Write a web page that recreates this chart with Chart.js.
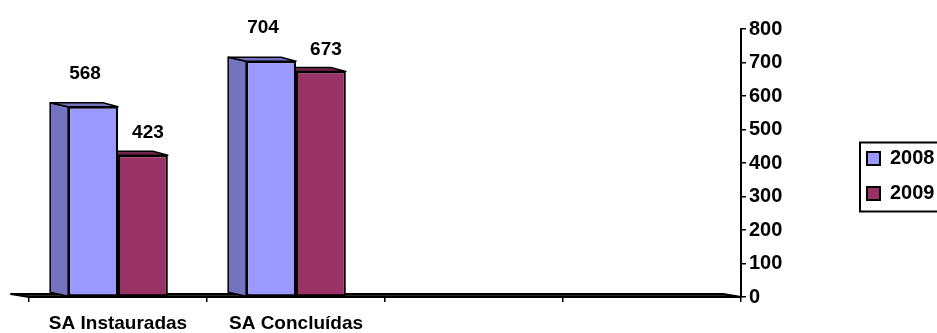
<!DOCTYPE html>
<html>
<head>
<meta charset="utf-8">
<script src="https://cdn.jsdelivr.net/npm/chart.js@4"></script>
<style>
  html, body { margin: 0; padding: 0; background: #fff; }
  #wrap { width: 937px; height: 333px; }
</style>
</head>
<body>
<div id="wrap"><canvas id="chart" width="937" height="333"></canvas></div>
<script>
// data
const categories = ['SA Instauradas', 'SA Concluídas', '', ''];
const years = ['2008', '2009'];
const values2008 = [568, 704, null, null];
const values2009 = [423, 673, null, null];
const yTicks = [0, 100, 200, 300, 400, 500, 600, 700, 800];

const frontColors = ['#9999FF', '#993366'];
const sideColors = ['#7373BF', '#73264D'];
const FONT = "'Liberation Sans', Arial, sans-serif";

// depth of the fake 3d look
const depthL = -18, depthR = -15, depthY = -4;

const threeD = {
    id: 'threeD',
    beforeDatasetsDraw(chart) {
        const ctx = chart.ctx;
        const area = chart.chartArea;
        const y0 = chart.scales.y.getPixelForValue(0);
        ctx.save();
        ctx.lineWidth = 1.5;
        ctx.strokeStyle = '#000';
        ctx.lineJoin = 'round';

        // floor
        ctx.beginPath();
        ctx.moveTo(area.left, y0);
        ctx.lineTo(area.right, y0);
        ctx.lineTo(area.right + depthL, y0 + depthY + 1);
        ctx.lineTo(area.left + depthL, y0 + depthY + 1);
        ctx.closePath();
        ctx.fillStyle = '#2a2a2a';
        ctx.fill();
        ctx.lineWidth = 2;
        ctx.stroke();
        ctx.lineWidth = 1.5;

        chart.data.datasets.forEach((ds, i) => {
            const meta = chart.getDatasetMeta(i);
            meta.data.forEach((bar, j) => {
                if (ds.data[j] == null) return;
                const left = bar.x - bar.width / 2;
                const right = bar.x + bar.width / 2;
                const top = bar.y;
                const base = bar.base;
                // side
                ctx.beginPath();
                ctx.moveTo(left, top);
                ctx.lineTo(left + depthL, top + depthY);
                ctx.lineTo(left + depthL, base + depthY);
                ctx.lineTo(left, base);
                ctx.closePath();
                ctx.fillStyle = sideColors[i];
                ctx.fill();
                ctx.stroke();
                // top
                ctx.beginPath();
                ctx.moveTo(left, top);
                ctx.lineTo(right, top);
                ctx.lineTo(right + depthR, top + depthY);
                ctx.lineTo(left + depthL, top + depthY);
                ctx.closePath();
                ctx.fillStyle = sideColors[i];
                ctx.fill();
                ctx.stroke();
            });
        });
        ctx.restore();
    }
};

const valueLabels = {
    id: 'valueLabels',
    afterDatasetsDraw(chart) {
        const ctx = chart.ctx;
        const dx = [-8, 5];
        const dy = [-28, -17];
        ctx.save();
        ctx.font = 'bold 19px ' + FONT;
        ctx.fillStyle = '#000';
        ctx.textAlign = 'center';
        ctx.textBaseline = 'alphabetic';
        chart.data.datasets.forEach((ds, i) => {
            chart.getDatasetMeta(i).data.forEach((bar, j) => {
                if (ds.data[j] == null) return;
                ctx.fillText(String(ds.data[j]), bar.x + dx[i], bar.y + dy[i]);
            });
        });
        ctx.restore();
    }
};

// nudge the legend up a little, then frame it
const legendBox = {
    id: 'legendBox',
    afterLayout(chart) {
        chart.legend.top -= 5;
        chart.legend.bottom -= 5;
    },
    afterDraw(chart) {
        const hb = chart.legend.legendHitBoxes;
        if (!hb || !hb.length) return;
        const ctx = chart.ctx;
        const last = hb[hb.length - 1];
        const x = hb[0].left - 7;
        const y = hb[0].top - 6;
        const h = last.top + last.height + 8 - y;
        ctx.save();
        ctx.strokeStyle = '#000';
        ctx.lineWidth = 2;
        ctx.strokeRect(x, y, chart.width + 20 - x, h);
        ctx.restore();
    }
};

const ctx = document.getElementById('chart').getContext('2d');
new Chart(ctx, {
    type: 'bar',
    data: {
        labels: categories,
        datasets: [{
            label: years[0],
            data: values2008,
            backgroundColor: frontColors[0],
            borderColor: '#000',
            borderWidth: 2,
            borderSkipped: false
        }, {
            label: years[1],
            data: values2009,
            backgroundColor: frontColors[1],
            borderColor: '#000',
            borderWidth: 2,
            borderSkipped: false
        }]
    },
    options: {
        responsive: false,
        animation: false,
        categoryPercentage: 0.56,
        barPercentage: 1.0,
        layout: { padding: { left: 29, top: 29, right: 0, bottom: 0 } },
        plugins: {
            tooltip: { enabled: false },
            legend: {
                position: 'right',
                maxWidth: 85,
                labels: {
                    boxWidth: 13,
                    boxHeight: 13,
                    padding: 15,
                    color: '#000',
                    font: { family: FONT, size: 20, weight: 'bold' }
                }
            }
        },
        scales: {
            x: {
                afterFit(scale) {
                    scale.height = 36;
                },
                grid: { display: true, drawOnChartArea: false, offset: true, tickLength: 5, color: '#000', lineWidth: 1.5 },
                border: { display: false },
                ticks: {
                    color: '#000',
                    padding: 10,
                    maxRotation: 0,
                    autoSkip: false,
                    font: { family: FONT, size: 19, weight: 'bold' }
                }
            },
            y: {
                position: 'right',
                min: 0,
                max: 800,
                afterBuildTicks(scale) {
                    scale.ticks = yTicks.map(v => ({ value: v }));
                },
                afterFit(scale) {
                    scale.width = 111;
                },
                grid: { display: true, drawOnChartArea: false, tickLength: 5, color: '#000', lineWidth: 1.5 },
                border: { display: true, color: '#000', width: 2 },
                ticks: {
                    color: '#000',
                    padding: 3,
                    font: { family: FONT, size: 20, weight: 'bold' }
                }
            }
        }
    },
    plugins: [threeD, valueLabels, legendBox]
});
</script>
</body>
</html>
